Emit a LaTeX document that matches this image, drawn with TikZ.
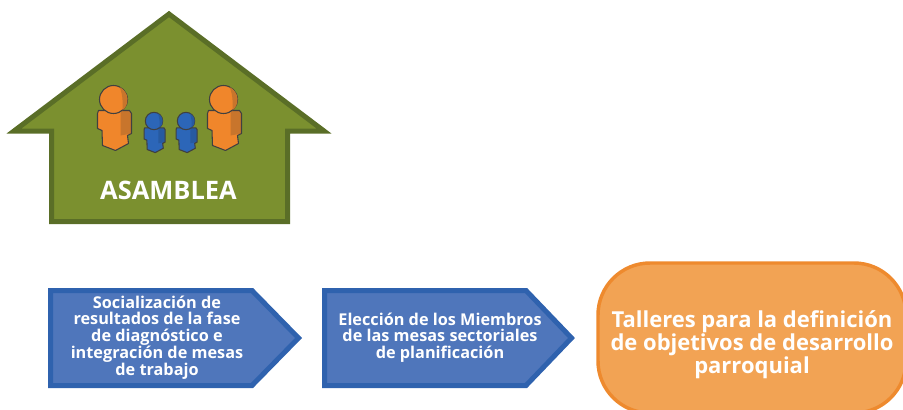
\documentclass[tikz,border=0pt]{standalone}
\usepackage{fontspec}
\setmainfont{Open Sans}
\definecolor{casaverde}{HTML}{7B902F}
\definecolor{casaborde}{HTML}{5A6E27}
\definecolor{azulfondo}{HTML}{4F76BB}
\definecolor{azulborde}{HTML}{2F62AE}
\definecolor{tallerfondo}{HTML}{F2A354}
\definecolor{tallerborde}{HTML}{EE8A2E}
\definecolor{gentenaranja}{HTML}{F0862B}
\definecolor{gentenaranjab}{HTML}{C8752C}
\definecolor{genteazul}{HTML}{2C66B8}
\definecolor{genteazulb}{HTML}{275AA0}
\tikzset{
  casa/.style={draw=casaborde,fill=casaverde,line width=3.75pt},
  flecha/.style={draw=azulborde,fill=azulfondo,line width=3.75pt},
  taller/.style={draw=tallerborde,fill=tallerfondo,line width=2.6pt,rounded corners=39pt},
  rotulo/.style={text=white,font=\bfseries,align=center,inner sep=0pt},
}
% one figure: head at (0,0)
\newcommand{\figura}[5]{
  \begin{scope}[shift={(#1,#2)},scale=#3]
    \fill[#4] (-15,11) -- (16,11) -- (18,14) -- (18,34) -- (14,36) -- (15,44) -- (2,51)
      -- (-11,46) -- (-11.5,31) -- (-16,29) -- (-16,14) -- cycle;
    \fill[#5] (7,11) -- (16,11) -- (18,14) -- (18,34) -- (7,36) -- cycle;
    \draw[black!75,line width=0.8pt,line join=round] (-15,11) -- (16,11) -- (18,14) -- (18,34)
      -- (14,36) -- (15,44) -- (2,51) -- (-11,46) -- (-11.5,31) -- (-16,29) -- (-16,14) -- cycle;
    \draw[black!75,fill=#4,line width=0.8pt] (0,0) circle (14);
    \fill[#5] (6,-12.5) arc (-65:50:14) .. controls (9,6) and (10,-4) .. (6,-12.5);
  \end{scope}
}
\begin{document}
\begin{tikzpicture}[x=0.75pt,y=-0.75pt]
  \clip (0,0) rectangle (903,410);
  \draw[casa] (169,14) -- (324,131) -- (287.5,131) -- (287.5,221.5) -- (51.5,221.5) -- (51.5,131) -- (14,131) -- cycle;
  \figura{113.5}{99.5}{1}{gentenaranja}{gentenaranjab}
  \figura{223.5}{99.5}{1}{gentenaranja}{gentenaranjab}
  \figura{154}{121}{0.62}{genteazul}{genteazulb}
  \figura{186}{121}{0.62}{genteazul}{genteazulb}
  \node [rotulo,font=\fontsize{19.1}{20}\bfseries] (asamblea) at (168.5,190) {ASAMBLEA};

  \draw[flecha] (50.5,290.5) -- (252,290.5) -- (298.5,338) -- (252,385.5) -- (50.5,385.5) -- cycle;
  \draw[flecha] (324.5,290.5) -- (526,290.5) -- (571.5,338) -- (526,385.5) -- (324.5,385.5) -- cycle;
  \draw[taller] (598,263) rectangle (906,413);

  \node [rotulo,font=\fontsize{12.2}{12.2}\bfseries] (socializacion) at (157,337.5) {Socialización de\\resultados de la fase\\de diagnóstico e\\integración de mesas\\de trabajo};
  \node [rotulo,font=\fontsize{12.2}{12.2}\bfseries,right of=socializacion,xshift=6.46cm] (eleccion) {Elección de los Miembros\\de las mesas sectoriales\\de planificación};
  \node [rotulo,font=\fontsize{16.5}{17.3}\bfseries] (talleres) at (752,344.5) {Talleres para la definición\\de objetivos de desarrollo\\parroquial};
\end{tikzpicture}
\end{document}
